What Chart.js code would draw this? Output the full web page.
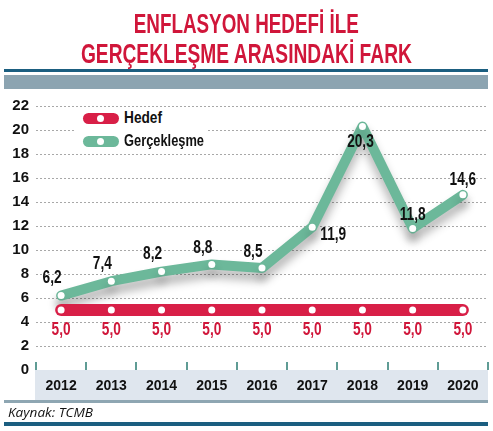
<!DOCTYPE html>
<html><head><meta charset="utf-8">
<script src="https://cdn.jsdelivr.net/npm/chart.js@4/dist/chart.umd.min.js"></script>
<style>
body{margin:0;background:#fff;}
#wrap{position:relative;width:493px;height:431px;overflow:hidden;font-family:'Liberation Sans',sans-serif;}
canvas{position:absolute;left:0;top:0;}
.t{position:absolute;left:0;width:493px;text-align:center;color:#d0163a;font-size:28px;line-height:28px;white-space:nowrap;font-weight:bold;}
.t span{display:inline-block;transform-origin:center;}
.bar{position:absolute;left:4px;width:484px;}
#leg{position:absolute;left:76px;top:108px;width:132px;height:42px;background:#fff;}
.li{position:absolute;left:7px;height:20px;font-weight:bold;font-size:17px;line-height:20px;color:#111;}
.pill{position:absolute;left:0;top:4px;width:36px;height:11px;border-radius:6px;}
.pill i{position:absolute;left:14px;top:2px;width:7px;height:7px;border-radius:50%;background:#fff;}
.li b{position:absolute;left:41px;top:-1px;white-space:nowrap;transform-origin:left center;}
#src{position:absolute;left:8px;top:403px;font-family:'Open Sans','Liberation Sans',sans-serif;font-style:italic;font-size:13px;color:#111;transform-origin:left center;}
</style></head>
<body><div id="wrap">
<canvas id="c" width="493" height="431"></canvas>
<div class="t" style="top:10px"><span id="t1">ENFLASYON HEDEFİ İLE</span></div>
<div class="t" style="top:40px"><span id="t2">GERÇEKLEŞME ARASINDAKİ FARK</span></div>
<div class="bar" style="top:69px;height:3px;background:#1b5e80"></div>
<div class="bar" style="top:75px;height:14px;background:#8ca4b1"></div>
<div id="leg">
 <div class="li" style="top:1px"><div class="pill" style="background:#d81f47"><i></i></div><b id="l1">Hedef</b></div>
 <div class="li" style="top:24px"><div class="pill" style="background:#6cb89a"><i></i></div><b id="l2">Gerçekleşme</b></div>
</div>
<div class="bar" style="top:400px;height:3px;background:#8ea6b2"></div>
<div id="src">Kaynak: TCMB</div>
<div class="bar" style="top:422px;height:4px;background:#1b5e80"></div>
</div>
<script>
const years = ['2012','2013','2014','2015','2016','2017','2018','2019','2020'];
const hedef = [5.0,5.0,5.0,5.0,5.0,5.0,5.0,5.0,5.0];
const gerceklesme = [6.2,7.4,8.2,8.8,8.5,11.9,20.3,11.8,14.6];
const yTicks = [0,2,4,6,8,10,12,14,16,18,20,22];

function fit(id, w){const e=document.getElementById(id);const n=e.getBoundingClientRect().width;e.style.transform='scaleX('+(w/n)+')';}
fit('t1',225); fit('t2',331); fit('l1',38); fit('l2',80); fit('src',85);

const FONT = "'Liberation Sans',sans-serif";
const RED = '#d81f47', GREEN = '#6cb89a';

const bgPlugin = {
  id:'bg',
  beforeDraw(chart){
    const {ctx, chartArea:a} = chart;
    ctx.save();
    ctx.fillStyle = '#dfe6ee';
    ctx.fillRect(a.left-1, a.bottom, a.right-a.left+1, 30);
    ctx.restore();
  },
  afterDraw(chart){
    const {ctx, chartArea:a} = chart;
    const x = chart.scales.x;
    ctx.save();
    ctx.strokeStyle = '#5f9c95';
    ctx.lineWidth = 2;
    for(let i=0;i<=years.length;i++){
      const px = Math.round(x.left + i*(x.right-x.left)/years.length);
      ctx.beginPath(); ctx.moveTo(px, a.bottom-8); ctx.lineTo(px, a.bottom); ctx.stroke();
    }
    ctx.restore();
  }
};

const shadowPlugin = {
  id:'shadow',
  beforeDatasetDraw(chart, args){
    if(args.index===1){
      const ctx = chart.ctx; ctx.save();
      ctx.shadowColor='rgba(0,0,0,0.3)'; ctx.shadowBlur=10; ctx.shadowOffsetY=8;
    }
  },
  afterDatasetDraw(chart, args){
    if(args.index===1) chart.ctx.restore();
  }
};

const labelPlugin = {
  id:'vlabels',
  afterDatasetsDraw(chart, args, opts){
    const ctx = chart.ctx;
    chart.data.datasets.forEach((ds, di)=>{
      const meta = chart.getDatasetMeta(di);
      const offs = opts.offsets[di];
      meta.data.forEach((p, i)=>{
        const o = offs[i];
        ctx.save();
        ctx.font = "bold 19px " + FONT;
        ctx.textAlign='center'; ctx.textBaseline='middle';
        ctx.fillStyle = opts.colors[di];
        ctx.translate(p.x+o[0], p.y+o[1]);
        ctx.scale(0.72,1);
        ctx.fillText(ds.data[i].toFixed(1).replace('.',','), 0, 0);
        ctx.restore();
      });
    });
  }
};

new Chart(document.getElementById('c'), {
  type:'line',
  data:{
    labels: years,
    datasets:[
      {label:'Hedef', data:hedef, borderColor:RED, borderWidth:12, borderCapStyle:'round',
       pointRadius:3.5, pointBackgroundColor:'#fff', pointBorderWidth:0, tension:0},
      {label:'Gerçekleşme', data:gerceklesme, borderColor:GREEN, borderWidth:10, borderCapStyle:'round', borderJoinStyle:'round',
       pointRadius:3.5, pointBackgroundColor:'#fff', pointBorderWidth:0, tension:0}
    ]
  },
  options:{
    responsive:false, animation:false, devicePixelRatio:1,
    layout:{padding:{top:106, bottom:31, right:5, left:0}},
    plugins:{
      legend:{display:false}, tooltip:{enabled:false}, title:{display:false},
      vlabels:{
        colors:['#d0163a','#111'],
        offsets:[
          [[0,20],[0,20],[0,20],[0,20],[0,20],[0,20],[0,20],[0,20],[0,20]],
          [[-9,-18],[-9,-17],[-9,-18],[-9,-17],[-9,-16],[21,8],[-2,15],[0,-14],[0,-15]]
        ]
      }
    },
    scales:{
      x:{
        offset:true,
        grid:{display:false, drawTicks:false},
        border:{display:false},
        ticks:{padding:8, color:'#111', font:{family:FONT, size:14, weight:'bold'}},
        afterFit(s){ s.height = 30; }
      },
      y:{
        min:0, max:22,
        afterBuildTicks(s){ s.ticks = yTicks.map(v=>({value:v})); },
        grid:{color:(c)=> c.tick && c.tick.value===0 ? 'rgba(0,0,0,0)' : '#a8a8a8', lineWidth:1, drawTicks:false, borderDash:[2,2]},
        border:{display:false, dash:[2,2]},
        ticks:{padding:7, color:'#111', font:{family:FONT, size:15, weight:'bold'}},
        afterFit(s){ s.width = 36; }
      }
    }
  },
  plugins:[bgPlugin, shadowPlugin, labelPlugin]
});
</script>
</body></html>
